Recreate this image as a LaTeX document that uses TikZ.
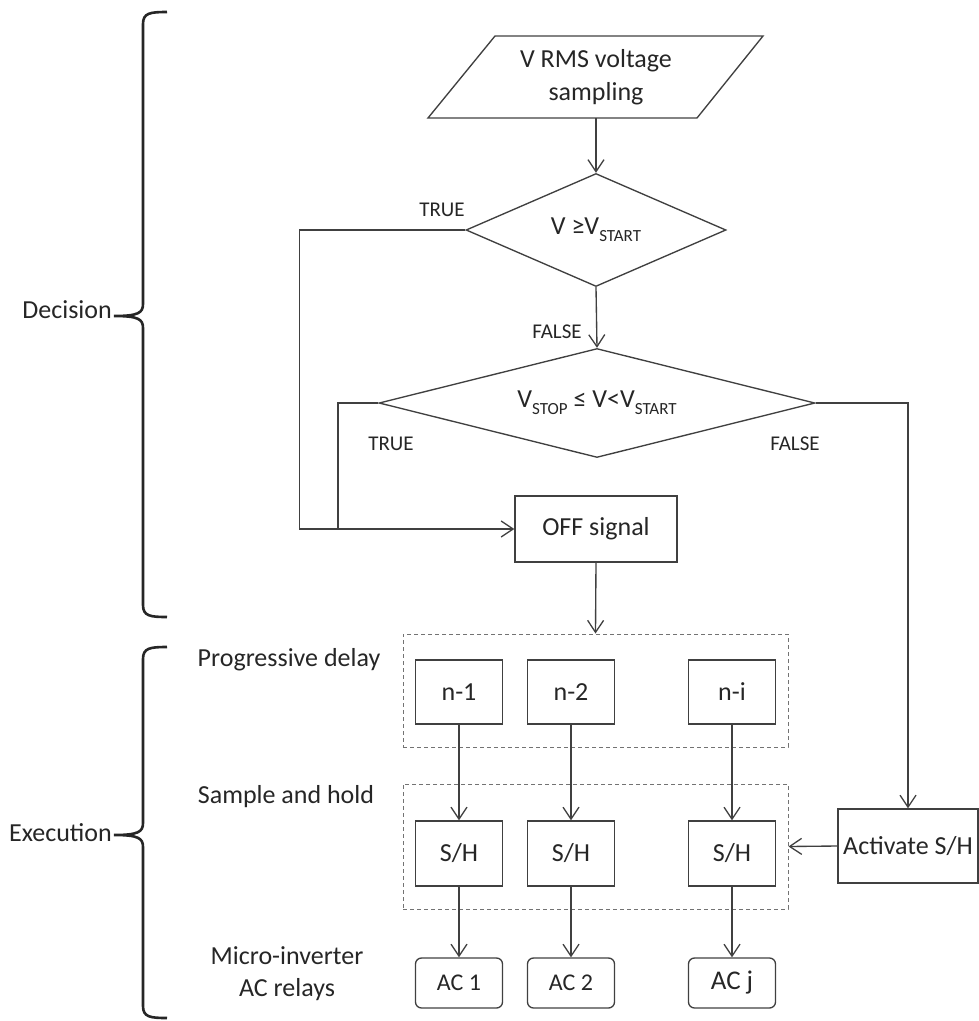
\documentclass[tikz,border=0pt]{standalone}
\usepackage{fontspec}
\setmainfont{Carlito}
\usetikzlibrary{shapes.geometric,arrows.meta}
\newcommand\mainf{\fontsize{26}{33}\selectfont}
\newcommand\lblf{\fontsize{21}{25}\selectfont}
\newcommand\subf{\fontsize{17}{17}\selectfont}
\newcommand\sbs[1]{\raisebox{-0.26em}{\subf #1}}
\begin{document}
\begin{tikzpicture}[x=1pt,y=-1pt,
  line/.style={draw=black!75, line width=1.35pt},
  arr/.style={line, -{Straight Barb[length=12pt,width=16pt,line width=1.3pt]}},
  box/.style={rectangle, draw=black!75, line width=1.35pt, inner sep=0pt, font=\mainf, text=black!85},
  nbox/.style={box, minimum width=87pt, minimum height=64pt},
  shbox/.style={box, minimum width=87pt, minimum height=65pt},
  acbox/.style={box, rounded corners=6pt, minimum width=87pt, minimum height=50pt, font=\fontsize{24}{28}\selectfont},
  dbox/.style={diamond, draw=black!75, line width=1.35pt, inner sep=0pt, font=\mainf, text=black!85},
  grp/.style={rectangle, draw=black!55, line width=1pt, dash pattern=on 4pt off 3pt, inner sep=0pt},
  lbl/.style={font=\lblf, text=black!85, inner sep=0pt},
  side/.style={font=\mainf, text=black!85, inner sep=0pt, align=center},
  brace/.style={draw=black!85, line width=2.6pt}]
\useasboundingbox (0,0) rectangle (979,1021);

% input parallelogram
\node[inner sep=0pt, minimum height=82pt, font=\mainf, align=center, text=black!85] (par) at (596,77) {V RMS voltage\\sampling};
\draw[line] (428,118) -- (495,36) -- (763,36) -- (697,118) -- cycle;

% decisions
\node[dbox, aspect=2.3, minimum width=260pt, minimum height=113pt] (d1) at (596,230) {V ≥V\sbs{START}};
\node[dbox, aspect=4, minimum width=436pt, minimum height=109pt] (d2) at (597,403) {V\sbs{STOP} ≤ V<V\sbs{START}};

\node[lbl] (t1) at (442,210) {TRUE};
\node[lbl] (f1) at (557,332) {FALSE};
\node[lbl] (t2) at (391,444) {TRUE};
\node[lbl] (f2) at (795,444) {FALSE};

% OFF signal
\node[box, minimum width=162pt, minimum height=66pt] (off) at (596,529) {OFF signal};
\coordinate (j) at (338,529);

% groups
\node[grp, minimum width=385pt, minimum height=113pt] (g1) at (595.5,690.5) {};
\node[grp, minimum width=385pt, minimum height=125pt] (g2) at (595.5,846.5) {};

\node[nbox] (n1) at (459,692) {n-1};
\node[nbox] (n2) at (571,692) {n-2};
\node[nbox] (ni) at (732,692) {n-i};

\node[shbox] (s1) at (459,853.5) {S/H};
\node[shbox] (s2) at (571,853.5) {S/H};
\node[shbox] (si) at (732,853.5) {S/H};

\node[acbox] (a1) at (459,983) {AC 1};
\node[acbox] (a2) at (571,983) {AC 2};
\node[acbox, font=\fontsize{27}{30}\selectfont] (aj) at (732,983) {AC j};

\node[box, minimum width=140pt, minimum height=74pt] (act) at (908,846) {Activate S/H};

% connectors
\draw[arr] (par.south) -- (d1.north);
\draw[arr] (d1.south) -- (d2.north);
\draw[arr] (d1.west) -- ++(-166,0) |- (off.west);
\draw[line] (d2.west) -| (j);
\draw[arr] (d2.east) -| (act.north);
\draw[arr] (off.south) -- (g1.north);
\draw[arr] (n1.south) -- (s1.north);
\draw[arr] (n2.south) -- (s2.north);
\draw[arr] (ni.south) -- (si.north);
\draw[arr] (s1.south) -- (a1.north);
\draw[arr] (s2.south) -- (a2.north);
\draw[arr] (si.south) -- (aj.north);
\draw[arr] (act.west) -- (g2.east);

% side labels
\node[side] (lpd) at (289,660) {Progressive delay};
\node[side] (lsh) at (286,797) {Sample and hold};
\node[side, font=\fontsize{26}{32}\selectfont] (lmi) at (287,974) {Micro-inverter\\AC relays};

% braces
\node[side, anchor=east] (dec) at (112,310) {Decision};
\node[side, anchor=east] (exe) at (112,833) {Execution};
\draw[brace] (167,12) .. controls (150,12) and (143,13) .. (143,24) -- (143,304)
  .. controls (143,313) and (138,316) .. (114,316)
  .. controls (138,316) and (143,319) .. (143,328) -- (143,605)
  .. controls (143,616) and (150,617) .. (167,617);
\draw[brace] (167,647) .. controls (150,647) and (143,648) .. (143,659) -- (143,823)
  .. controls (143,832) and (138,835) .. (114,835)
  .. controls (138,835) and (143,838) .. (143,847) -- (143,1006)
  .. controls (143,1017) and (150,1018) .. (167,1018);
\end{tikzpicture}
\end{document}
